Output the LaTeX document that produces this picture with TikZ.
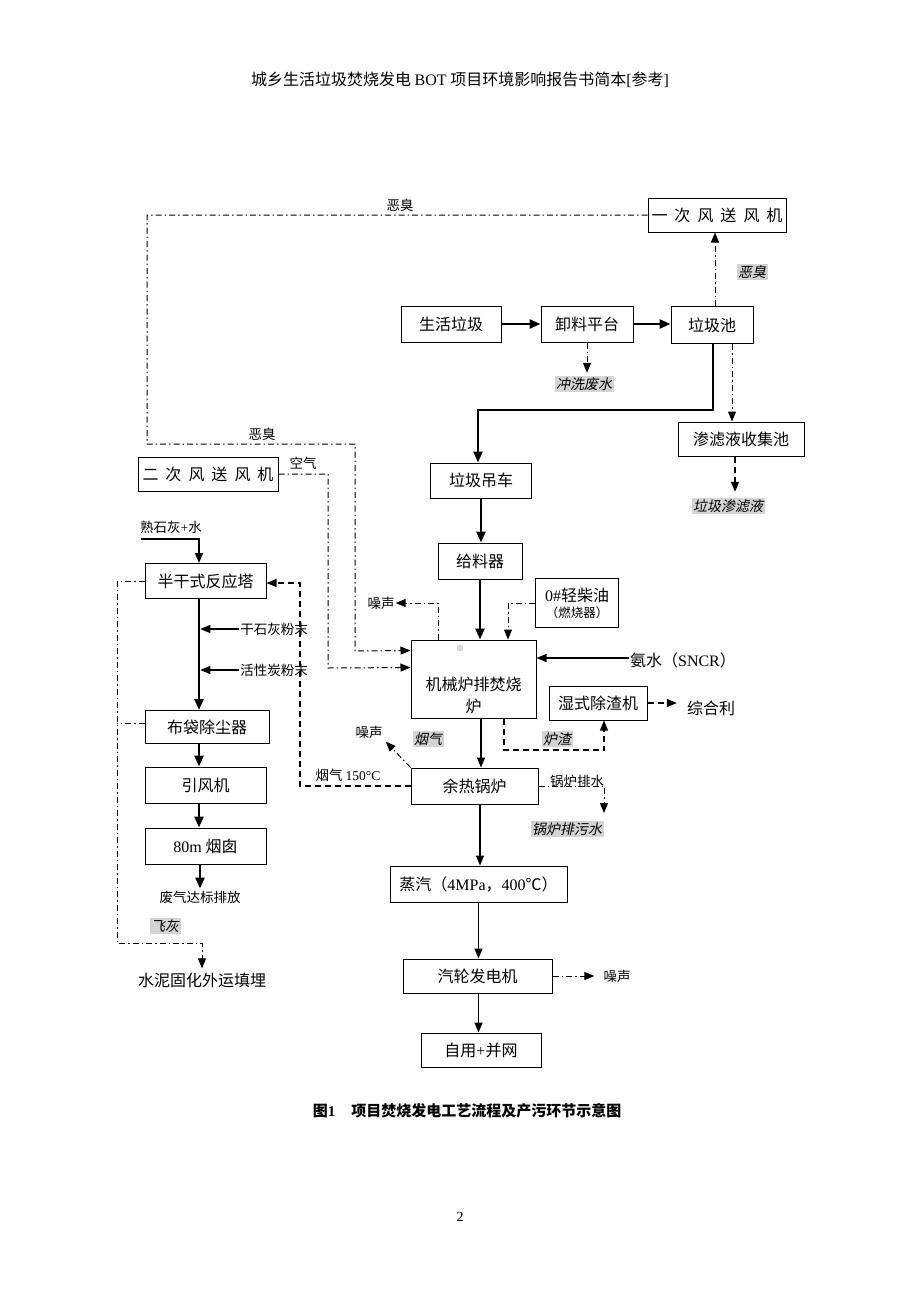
\documentclass[tikz,border=0pt]{standalone}
\usepackage{fontspec}
\setmainfont{Noto Sans CJK SC}
\newfontfamily\tnr{Liberation Serif}
\newfontfamily\cjkit[FakeSlant=0.2]{Noto Sans CJK SC}
\usetikzlibrary{arrows.meta}

\tikzset{
	box/.style={draw, line width=1pt, inner sep=0pt, font=\fontsize{16}{19}\selectfont},
	lbl/.style={inner sep=1pt, font=\fontsize{13.5}{15}\selectfont},
	biglbl/.style={inner sep=1pt, font=\fontsize{16}{19}\selectfont},
	tag/.style={fill=black!17, inner sep=1.5pt, font=\cjkit\fontsize{14}{16}\selectfont},
	tip/.style={-{Triangle[length=10pt,width=8pt]}},
	solidflow/.style={line width=1.4pt, tip},
	mainflow/.style={line width=2.6pt, -{Triangle[length=11pt,width=9pt]}},
	dotflow/.style={line width=1pt, dash pattern=on 6pt off 3pt on 1.5pt off 3pt},
	dashflow/.style={line width=1.1pt, dash pattern=on 6pt off 4pt},
}

\begin{document}
\begin{tikzpicture}[x=1pt,y=-1pt]
		\useasboundingbox (0,0) rectangle (920,1302);
		\fill[white] (0,0) rectangle (920,1302);

		\node[inner sep=0pt, font=\fontsize{16}{19}\selectfont] (head) at (460,80) {城乡生活垃圾焚烧发电 {\tnr BOT} 项目环境影响报告书简本{\tnr[}参考{\tnr]}};

		\node[box, minimum width=138, minimum height=34] (fan1) at (717,215) {一\hspace{7pt}次\hspace{7pt}风\hspace{7pt}送\hspace{7pt}风\hspace{7pt}机};
		\node[box, minimum width=100, minimum height=36] (msw) at (451,324) {生活垃圾};
		\node[box, minimum width=92, minimum height=36] (unload) at (587,324) {卸料平台};
		\node[box, minimum width=82, minimum height=37] (pit) at (712,325) {垃圾池};
		\node[box, minimum width=126, minimum height=34] (leach) at (741,439) {渗滤液收集池};
		\node[box, minimum width=101, minimum height=35] (crane) at (481,480.5) {垃圾吊车};
		\node[box, minimum width=84, minimum height=36] (feeder) at (480,561) {给料器};
		\node[box, minimum width=83, minimum height=49, align=center] (oil) at (577,603) {{\tnr 0\#}轻柴油\\[-3pt]{\fontsize{12.5}{14}\selectfont （燃烧器）}};
		\node[box, minimum width=125, minimum height=78] (furnace) at (473.5,679) {};
		\node[inner sep=0pt, align=center, font=\fontsize{16}{22}\selectfont] (furnacetxt) at (473.5,695) {机械炉排焚烧\\炉};
		\node[box, minimum width=98, minimum height=34] (slag) at (598,703) {湿式除渣机};
		\node[box, minimum width=127, minimum height=36] (boiler) at (474.5,786) {余热锅炉};
		\node[box, minimum width=177, minimum height=36] (steam) at (478.5,884) {蒸汽（{\tnr 4MPa}，{\tnr 400}℃）};
		\node[box, minimum width=149, minimum height=34] (turbine) at (477.5,976) {汽轮发电机};
		\node[box, minimum width=120, minimum height=34] (grid) at (481,1050) {自用{\tnr +}并网};

		\node[box, minimum width=140, minimum height=34] (fan2) at (208,474) {二\hspace{7pt}次\hspace{7pt}风\hspace{7pt}送\hspace{7pt}风\hspace{7pt}机};
		\node[box, minimum width=121, minimum height=35] (tower) at (205.5,581) {半干式反应塔};
		\node[box, minimum width=124, minimum height=33] (bag) at (207,727) {布袋除尘器};
		\node[box, minimum width=121, minimum height=36] (idfan) at (205.5,785) {引风机};
		\node[box, minimum width=121, minimum height=36] (stack) at (205.5,846) {{\tnr 80m} 烟囱};

		\node[lbl] (odour1) at (400,205) {恶臭};
		\node[lbl] (odour2) at (262,434) {恶臭};
		\node[lbl] (air) at (303,463) {空气};
		\node[lbl] (lime) at (171,527) {熟石灰{\tnr +}水};
		\node[lbl] (noise1) at (381,603) {噪声};
		\node[biglbl] (ammonia) at (683,660) {氨水（{\tnr SNCR}）};
		\node[biglbl] (reuse) at (711,708) {综合利};
		\node[lbl] (drylime) at (274,629) {干石灰粉末};
		\node[lbl] (carbon) at (274,670) {活性炭粉末};
		\node[lbl] (noise2) at (369,732) {噪声};
		\node[lbl] (flue150) at (348,775) {烟气 {\tnr 150°C}};
		\node[lbl] (drain) at (577,781) {锅炉排水};
		\node[lbl] (exhaust) at (200,897) {废气达标排放};
		\node[biglbl] (cement) at (202,980) {水泥固化外运填埋};
		\node[lbl] (noise3) at (617,976) {噪声};

		\node[tag] (odourtag) at (752,272) {恶臭};
		\node[tag] (washtag) at (584,384) {冲洗废水};
		\node[tag] (leachtag) at (728,506) {垃圾渗滤液};
		\node[tag] (fluetag) at (428,739) {烟气};
		\node[tag] (slagtag) at (557,739) {炉渣};
		\node[tag] (blowtag) at (567,829) {锅炉排污水};
		\node[tag] (flyashtag) at (165,926) {飞灰};

		\node[inner sep=0pt, font=\bfseries\fontsize{15}{18}\selectfont] (caption) at (467,1111) {图{\tnr\bfseries 1}\hspace{16pt}项目焚烧发电工艺流程及产污环节示意图};
		\node[inner sep=0pt, font=\tnr\fontsize{14}{16}\selectfont] (page) at (460,1217) {2};

		\fill[black!15] (457,645) rectangle (463,651);

		\coordinate (pitbend) at (713,410);
		\coordinate (slagbend) at (604,750);
		\coordinate (fluebend) at (300,583);
		\coordinate (drainend) at (604,813);
		\coordinate (limestart) at (141,539);
		\coordinate (ashbend) at (117,943);
		\coordinate (gasx) at (199,0);

		\draw[mainflow] (msw) -- (unload);
		\draw[mainflow] (unload.east) -- (unload.east -| pit.west);
		\draw[dotflow,tip] ([xshift=3pt]pit.north) -- ([xshift=3pt]pit.north |- fan1.south);
		\draw[dotflow,tip] (fan1.west) -| (147,444) -| (355,651) -- ([yshift=-11pt]furnace.north west);
		\draw[dotflow,tip] (fan2.east) -| (328,668) -- ([yshift=-28pt]furnace.north west);
		\draw[dotflow,tip,shorten >=3pt] (unload.south) -- (unload.south |- washtag.north);
		\draw[mainflow] (pit.south -| pitbend) -- (pitbend) -| ([xshift=-3pt]crane.north);
		\draw[dotflow,tip] ([xshift=20pt]pit.south) -- ([xshift=20pt]pit.south |- leach.north);
		\draw[dashflow,tip,shorten >=6pt] ([xshift=-6pt]leach.south) -- ([xshift=-6pt]leach.south |- leachtag.north);
		\draw[mainflow] (crane.south) -- (crane.south |- feeder.north);
		\draw[mainflow] (feeder.south) -- (feeder.south |- furnace.north);
		\draw[dotflow,tip] (oil.west) -| ([xshift=34.5pt]furnace.north);
		\draw[dotflow,tip] ([xshift=-35.5pt]furnace.north) |- (noise1.east);
		\draw[solidflow] ([yshift=2pt]ammonia.west) -- ([yshift=2pt]ammonia.west -| furnace.east);
		\draw[dashflow,tip] ([xshift=30.5pt]furnace.south) |- (slagbend) -- (slagbend |- slag.south);
		\draw[dashflow,tip,shorten >=9pt] (slag.east) -- (slag.east -| reuse.west);
		\draw[solidflow] ([xshift=7.5pt]furnace.south) -- ([xshift=7.5pt]furnace.south |- boiler.north);
		\draw[dotflow,tip,shorten >=3pt] (boiler.north west) -- (noise2.south east);
		\draw[dashflow,tip] (boiler.west) -| (fluebend) -- (fluebend -| tower.east);
		\draw[dotflow,tip] (boiler.east) -| (drainend);
		\draw[solidflow] ([xshift=5.5pt]boiler.south) -- ([xshift=5.5pt]boiler.south |- steam.north);
		\draw[solidflow] (steam.south) -- (steam.south |- turbine.north);
		\draw[solidflow] (steam.south |- turbine.south) -- (steam.south |- grid.north);
		\draw[dotflow,tip,shorten >=8pt] (turbine.east) -- (turbine.east -| noise3.west);

		\draw[solidflow] (limestart) -| (tower.north -| gasx);
		\draw[mainflow] (tower.south -| gasx) -- (bag.north -| gasx);
		\draw[solidflow,shorten >=1.3pt] (drylime.west) -- (drylime.west -| gasx);
		\draw[solidflow,shorten >=1.3pt] (carbon.west) -- (carbon.west -| gasx);
		\draw[mainflow] (bag.south -| gasx) -- (idfan.north -| gasx);
		\draw[mainflow] (idfan.south -| gasx) -- (stack.north -| gasx);
		\draw[mainflow] (stack.south -| exhaust.north) -- ([yshift=1pt]exhaust.north);
		\draw[dotflow,tip,shorten >=3pt] (tower.west) -| (ashbend) -| (cement.north);
		\draw[dotflow] ([yshift=4pt]bag.west) -- ([yshift=4pt]bag.west -| ashbend);
	\end{tikzpicture}
\end{document}
